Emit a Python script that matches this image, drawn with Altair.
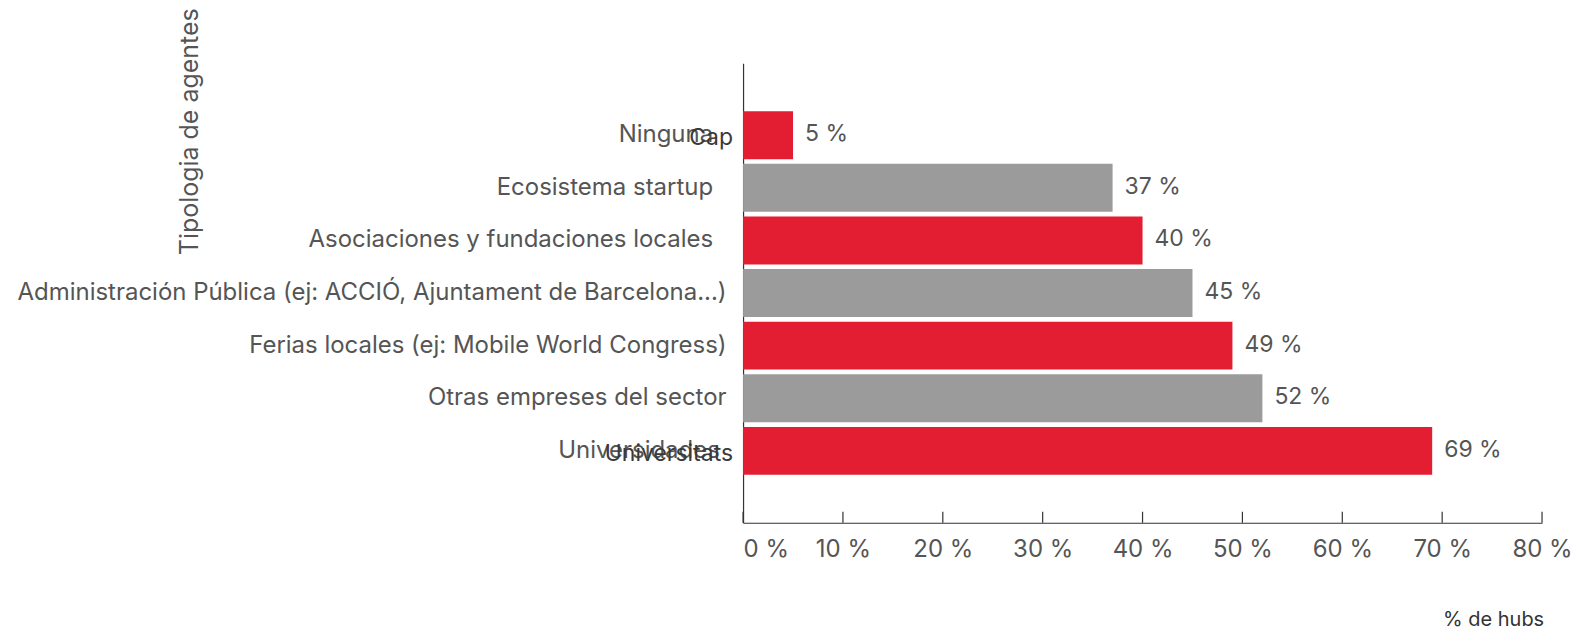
import altair as alt
import pandas as pd

NB = "\u00a0"
ZW = "\u200b"  # keeps the trailing no-break spaces from being trimmed
categorias = [
    "Ninguna" + NB * 2 + ZW,
    "Ecosistema startup" + NB * 2 + ZW,
    "Asociaciones y fundaciones locales" + NB * 2 + ZW,
    "Administración Pública (ej: ACCIÓ, Ajuntament de Barcelona...)",
    "Ferias locales (ej: Mobile World Congress)",
    "Otras empreses del sector",
    "Universidades" + NB + ZW,
]
valores = [5, 37, 40, 45, 49, 52, 69]

# Catalan labels printed over two of the Spanish ones
cat_solapadas = [categorias[0], categorias[6]]
etiquetas_ca = ["Cap", "Universitats"]

ticks_x = [0, 10, 20, 30, 40, 50, 60, 70, 80]

ROJO = "#E31E32"
GRIS = "#9B9B9B"
TEXTO = "#555555"
FONT = "Inter"

df = pd.DataFrame({"cat": categorias, "val": valores})
df["tono"] = ["rojo" if i % 2 == 0 else "gris" for i in range(len(df))]
df["etq"] = df["val"].astype(str) + " %"

df_ca = pd.DataFrame({"cat": cat_solapadas, "ca": etiquetas_ca})
df_ticks = pd.DataFrame({"t": ticks_x})

H = 460
W = 800

y_enc = alt.Y(
    "cat:N",
    sort=categorias,
    scale=alt.Scale(paddingInner=0.0886, paddingOuter=0.911),
    axis=alt.Axis(
        title="Tipologia de agentes",
        titleAngle=-90,
        titleAlign="center",
        titleBaseline="middle",
        titleX=-554,
        titleY=68,
        titleFont=FONT,
        titleFontSize=25,
        titleFontWeight="normal",
        titleColor=TEXTO,
        labelFont=FONT,
        labelFontSize=24,
        labelColor=TEXTO,
        labelPadding=17,
        labelLimit=900,
        ticks=False,
        domainColor="#333333",
        domainWidth=1.2,
    ),
)

x_enc = alt.X(
    "val:Q",
    scale=alt.Scale(domain=[0, 80], nice=False),
    axis=alt.Axis(
        title="% de hubs",
        values=ticks_x,
        labelExpr="datum.value + ' %'",
        labelFont=FONT,
        labelFontSize=24,
        labelColor=TEXTO,
        labelPadding=15,
        labelFlush=False,
        labelAlign={"condition": {"test": "datum.value == 0", "value": "left"}, "value": "center"},
        ticks=False,
        grid=False,
        domainColor="#333333",
        domainWidth=1.2,
        titleFont=FONT,
        titleFontSize=20,
        titleFontWeight="normal",
        titleColor="#333333",
        titleX=751,
        titleY=97,
        titleAlign="center",
        titleBaseline="middle",
    ),
)

barras = alt.Chart(df).mark_bar().encode(
    x=x_enc,
    y=y_enc,
    color=alt.Color("tono:N", scale=alt.Scale(domain=["rojo", "gris"], range=[ROJO, GRIS]), legend=None),
)

valores_txt = alt.Chart(df).mark_text(
    align="left", baseline="middle", dx=12, dy=-1, font=FONT, fontSize=23, color=TEXTO
).encode(
    x=alt.X("val:Q"),
    y=alt.Y("cat:N", sort=categorias),
    text="etq:N",
)

ca_txt = alt.Chart(df_ca).mark_text(
    align="right", baseline="middle", dx=-10, dy=3, font=FONT, fontSize=23, color="#3a3a3a"
).encode(
    x=alt.datum(0),
    y=alt.Y("cat:N", sort=categorias),
    text="ca:N",
)

ticks = alt.Chart(df_ticks).mark_rule(color="#333333", strokeWidth=1.2).encode(
    x=alt.X("t:Q"),
    y=alt.value(H),
    y2=alt.value(H - 11),
)

chart = (
    alt.layer(barras, valores_txt, ca_txt, ticks)
    .properties(
        width=W,
        height=H,
        autosize=alt.AutoSizeParams(type="none"),
        padding={"left": 736, "top": 55, "right": 30, "bottom": 110},
    )
    .configure_view(strokeWidth=0, stroke=None)
)

chart.save("out.html", embed_options={"renderer": "svg", "actions": False})
